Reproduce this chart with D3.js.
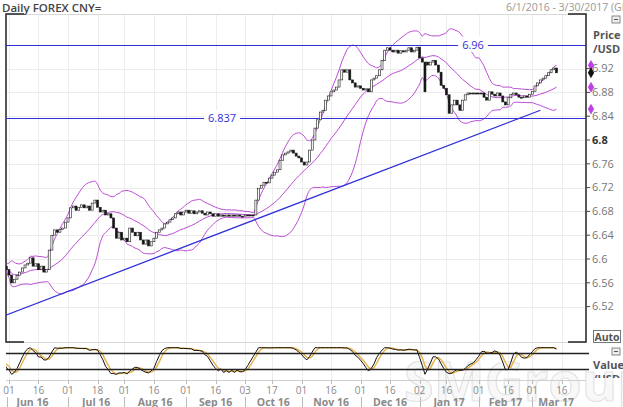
<!DOCTYPE html>
<html>
<head>
<meta charset="utf-8">
<script src="https://cdnjs.cloudflare.com/ajax/libs/d3/7.8.5/d3.min.js"></script>
<style>
	body { margin: 0; background: #fff; }
	svg { display: block; font-family: "Open Sans", sans-serif; }
</style>
</head>
<body>
<svg id="chart" width="623" height="407"></svg>
<script>

// daily closes, one per weekday starting Mon 2016-05-30
const closes = [
	6.588, 6.582,
	6.573, 6.560, 6.566, 6.572, 6.578, 6.585, 6.590, 6.593, 6.602, 6.588,
	6.592, 6.582, 6.588, 6.578, 6.582, 6.615, 6.640, 6.649, 6.645, 6.650,
	6.652, 6.662, 6.669, 6.686, 6.689, 6.682, 6.687, 6.691, 6.686, 6.689,
	6.682, 6.694, 6.699, 6.687, 6.679, 6.682, 6.674, 6.676, 6.669, 6.652,
	6.635, 6.645, 6.632, 6.635, 6.629, 6.652, 6.645, 6.639, 6.645, 6.632,
	6.625, 6.632, 6.622, 6.629, 6.635, 6.645, 6.649, 6.652, 6.659, 6.662,
	6.666, 6.669, 6.676, 6.679, 6.674, 6.679, 6.682, 6.677, 6.681, 6.676,
	6.679, 6.681, 6.677, 6.674, 6.679, 6.676, 6.672, 6.676, 6.672, 6.674,
	6.672, 6.674, 6.672, 6.674, 6.672, 6.674, 6.672, 6.672, 6.674, 6.674,
	6.674, 6.674, 6.699, 6.719, 6.724, 6.729, 6.728, 6.736, 6.741, 6.746,
	6.750, 6.766, 6.775, 6.778, 6.780, 6.783, 6.778, 6.773, 6.770, 6.763,
	6.758, 6.763, 6.783, 6.800, 6.820, 6.834, 6.847, 6.850, 6.867, 6.874,
	6.881, 6.884, 6.889, 6.901, 6.918, 6.914, 6.918, 6.901, 6.896, 6.889,
	6.891, 6.887, 6.884, 6.886, 6.881, 6.901, 6.904, 6.908, 6.918, 6.934,
	6.951, 6.955, 6.951, 6.948, 6.951, 6.946, 6.950, 6.948, 6.951, 6.955,
	6.948, 6.951, 6.956, 6.938, 6.931, 6.881, 6.926, 6.931, 6.934, 6.926,
	6.914, 6.892, 6.887, 6.876, 6.845, 6.859, 6.867, 6.859, 6.850, 6.867,
	6.876, 6.879, 6.879, 6.879, 6.879, 6.879, 6.879, 6.872, 6.867, 6.881,
	6.877, 6.874, 6.879, 6.874, 6.864, 6.859, 6.871, 6.877, 6.879, 6.876,
	6.872, 6.871, 6.874, 6.872, 6.877, 6.882, 6.891, 6.896, 6.901, 6.904,
	6.908, 6.913, 6.918, 6.921, 6.913
];

const opens = [
	6.592, 6.588,
	6.582, 6.573, 6.560, 6.566, 6.572, 6.578, 6.585, 6.590, 6.593, 6.602,
	6.588, 6.592, 6.582, 6.588, 6.578, 6.582, 6.615, 6.640, 6.649, 6.645,
	6.650, 6.652, 6.662, 6.669, 6.686, 6.689, 6.682, 6.687, 6.691, 6.686,
	6.689, 6.682, 6.694, 6.699, 6.687, 6.679, 6.682, 6.674, 6.676, 6.669,
	6.652, 6.635, 6.645, 6.632, 6.635, 6.629, 6.652, 6.645, 6.639, 6.645,
	6.632, 6.625, 6.632, 6.622, 6.629, 6.635, 6.645, 6.649, 6.652, 6.659,
	6.662, 6.666, 6.669, 6.676, 6.679, 6.674, 6.679, 6.682, 6.677, 6.681,
	6.676, 6.679, 6.681, 6.677, 6.674, 6.679, 6.676, 6.672, 6.676, 6.672,
	6.674, 6.672, 6.674, 6.672, 6.674, 6.672, 6.674, 6.672, 6.672, 6.674,
	6.674, 6.674, 6.674, 6.699, 6.719, 6.724, 6.729, 6.728, 6.736, 6.741,
	6.746, 6.750, 6.766, 6.775, 6.778, 6.780, 6.783, 6.778, 6.773, 6.770,
	6.763, 6.758, 6.763, 6.783, 6.800, 6.820, 6.834, 6.847, 6.850, 6.867,
	6.874, 6.881, 6.884, 6.889, 6.901, 6.918, 6.914, 6.918, 6.901, 6.896,
	6.889, 6.891, 6.887, 6.884, 6.886, 6.881, 6.901, 6.904, 6.908, 6.918,
	6.934, 6.951, 6.955, 6.951, 6.948, 6.951, 6.946, 6.950, 6.948, 6.951,
	6.955, 6.948, 6.951, 6.956, 6.938, 6.931, 6.931, 6.926, 6.931, 6.934,
	6.926, 6.914, 6.892, 6.887, 6.876, 6.845, 6.859, 6.867, 6.859, 6.850,
	6.867, 6.876, 6.879, 6.879, 6.879, 6.879, 6.879, 6.879, 6.872, 6.867,
	6.881, 6.877, 6.874, 6.879, 6.874, 6.864, 6.859, 6.871, 6.877, 6.879,
	6.876, 6.872, 6.871, 6.874, 6.872, 6.877, 6.882, 6.891, 6.896, 6.901,
	6.904, 6.908, 6.913, 6.918, 6.921
];

const startDate = '2016-05-30';
const levelValues = [6.96, 6.837];
const levelLabels = ['6.96', '6.837'];
const trendDates = ['2016-05-30', '2017-03-06'];
const trendValues = [6.505, 6.850];
const priceTicks = [6.52, 6.56, 6.6, 6.64, 6.68, 6.72, 6.76, 6.8, 6.84, 6.88, 6.92];
const dayTicks = ['2016-06-01', '2016-06-16', '2016-07-01', '2016-07-18', '2016-08-01', '2016-08-16',
	'2016-09-01', '2016-09-16', '2016-10-03', '2016-10-17', '2016-11-01', '2016-11-16',
	'2016-12-01', '2016-12-16', '2017-01-02', '2017-01-16', '2017-02-01', '2017-02-16',
	'2017-03-01', '2017-03-16'];
const monthStarts = ['2016-06-01', '2016-07-01', '2016-08-01', '2016-09-01', '2016-10-03', '2016-11-01',
	'2016-12-01', '2017-01-02', '2017-02-01', '2017-03-01', '2017-04-03'];
const monthLabels = ['Jun 16', 'Jul 16', 'Aug 16', 'Sep 16', 'Oct 16', 'Nov 16', 'Dec 16', 'Jan 17', 'Feb 17', 'Mar 17'];
const oscLevels = [80, 20];

let svg = d3.select('#chart');
const L = 6, R = 586, T = 14, B = 342;
const oscT = 345, oscB = 380;
const purple = '#bb4ad6', blue = '#3030d8';

let parse = d3.timeParse('%Y-%m-%d');
let base = parse(startDate);

// weekday count from the first bar
function tIndex(s) {
	let d = parse(s), t = new Date(base), n = 0;
	while (t < d) {
		t.setDate(t.getDate() + 1);
		if (t.getDay() % 6 !== 0) n++;
	}
	return n;
}

let x = d3.scaleLinear().domain([0.9, 217]).range([L, R]);
let y = d3.scaleLinear().domain([6.4605, 7.0118]).range([B, T]);
let yo = d3.scaleLinear().domain([0, 100]).range([374.3, 347.7]);

let bars = closes.map((c, i) => ({ i: i, o: opens[i], c: c }));

// bollinger 20,2
let bands = closes.map((c, i) => {
	let w = closes.slice(Math.max(0, i - 19), i + 1);
	let m = d3.mean(w);
	let sd = Math.sqrt(d3.mean(w, v => (v - m) * (v - m)));
	return { i: i, mid: m, up: m + 2 * sd, lo: m - 2 * sd };
});

// stochastic 14,3,3 on closes
let raw = closes.map((c, i) => {
	let w = closes.slice(Math.max(0, i - 13), i + 1);
	let lo = d3.min(w), hi = d3.max(w);
	return hi > lo ? (c - lo) / (hi - lo) * 100 : 50;
});
let sma3 = arr => arr.map((v, i) => d3.mean(arr.slice(Math.max(0, i - 2), i + 1)));
let kLine = sma3(raw);
let dLine = sma3(kLine);

svg.append('rect').attr('width', 623).attr('height', 407).attr('fill', '#fff');

let defs = svg.append('defs');
defs.append('clipPath').attr('id', 'clipMain')
	.append('rect').attr('x', L).attr('y', T).attr('width', R - L).attr('height', B - T);
defs.append('clipPath').attr('id', 'clipOsc')
	.append('rect').attr('x', L).attr('y', oscT).attr('width', R - L).attr('height', oscB - oscT);

// watermark
svg.append('text')
	.attr('x', 404).attr('y', 401)
	.style('font-size', '54px').style('font-weight', 'bold')
	.attr('fill', '#f8f8f8').attr('stroke', '#e3e3e3').attr('stroke-width', 1.2)
	.text('SMGroup');

// grid
let grid = svg.append('g').attr('stroke', '#ededed').attr('stroke-width', 1);
grid.selectAll('.vg').data(dayTicks).enter().append('line')
	.attr('x1', d => Math.round(x(tIndex(d))) + 0.5).attr('x2', d => Math.round(x(tIndex(d))) + 0.5)
	.attr('y1', T).attr('y2', oscB);
grid.selectAll('.hg').data(priceTicks).enter().append('line')
	.attr('x1', L).attr('x2', R)
	.attr('y1', d => Math.round(y(d)) + 0.5).attr('y2', d => Math.round(y(d)) + 0.5);
grid.append('line').attr('x1', L).attr('x2', R).attr('y1', T + 0.5).attr('y2', T + 0.5).attr('stroke', '#d8d8d8');
grid.append('line').attr('x1', L).attr('x2', R).attr('y1', B + 0.5).attr('y2', B + 0.5).attr('stroke', '#d8d8d8');
grid.append('line').attr('x1', L).attr('x2', R).attr('y1', oscB + 0.5).attr('y2', oscB + 0.5).attr('stroke', '#d0d0d0');

// frame: side lines and corner brackets
let frame = svg.append('g').attr('stroke', '#222').attr('stroke-width', 1.5).attr('fill', 'none');
frame.append('path').attr('d', `M${L + 18},${T}H${L}V${B}H${L + 18}`);
frame.append('path').attr('d', `M${R - 18},${T}H${R}V${B}H${R - 18}`);

let main = svg.append('g').attr('clip-path', 'url(#clipMain)');

// bollinger lines
['up', 'mid', 'lo'].forEach(k => {
	main.append('path')
		.datum(bands)
		.attr('fill', 'none').attr('stroke', purple).attr('stroke-width', 1)
		.attr('d', d3.line().x(d => x(d.i)).y(d => y(d[k])).curve(d3.curveMonotoneX));
});

// horizontal levels
levelValues.forEach(v => {
	main.append('line')
		.attr('x1', L).attr('x2', R)
		.attr('y1', Math.round(y(v)) + 0.5).attr('y2', Math.round(y(v)) + 0.5)
		.attr('stroke', blue).attr('stroke-width', 1.2);
});

// trend line
main.append('line')
	.attr('x1', x(tIndex(trendDates[0]) - 0.9)).attr('y1', y(trendValues[0] - 0.0025))
	.attr('x2', x(tIndex(trendDates[1]))).attr('y2', y(trendValues[1]))
	.attr('stroke', blue).attr('stroke-width', 1.3);

// candles
main.selectAll('.bar').data(bars).enter().append('rect')
	.attr('class', 'bar')
	.attr('x', d => x(d.i) - 1)
	.attr('width', 2)
	.attr('y', d => y(Math.max(d.o, d.c)))
	.attr('height', d => Math.max(1, Math.abs(y(d.o) - y(d.c))))
	.attr('fill', d => d.c > d.o ? '#fff' : '#161616')
	.attr('stroke', '#161616').attr('stroke-width', 0.6);

// level labels with white boxes
let labelPos = [473, 222];
levelValues.forEach((v, k) => {
	let g = svg.append('g').attr('transform', `translate(${labelPos[k]},${y(v)})`);
	let t = g.append('text').attr('text-anchor', 'middle').attr('dy', '0.35em')
		.style('font-size', '11px').attr('fill', blue).text(levelLabels[k]);
	let bb = t.node().getBBox();
	g.insert('rect', 'text').attr('x', bb.x - 4).attr('y', bb.y).attr('width', bb.width + 8).attr('height', bb.height).attr('fill', '#fff');
});

// price axis
let yAxis = svg.append('g');
yAxis.selectAll('.tk').data(priceTicks).enter().append('line')
	.attr('x1', R).attr('x2', R + 4).attr('y1', d => y(d)).attr('y2', d => y(d))
	.attr('stroke', '#444');
yAxis.selectAll('.tl').data(priceTicks).enter().append('text')
	.attr('x', R + 6).attr('y', d => y(d)).attr('dy', '0.35em')
	.style('font-size', '11px')
	.style('font-weight', d => d === 6.8 ? 'bold' : 'normal')
	.attr('fill', d => d === 6.8 ? '#333' : '#777')
	.text(d => d3.format('')(d));

// last-value markers
let last = bands[bands.length - 1];
let diamond = d3.symbol(d3.symbolDiamond).size(34);
[last.up, last.mid, last.lo].forEach(v => {
	svg.append('path').attr('d', diamond).attr('transform', `translate(${R + 5},${y(v)})`).attr('fill', '#c040e8');
});
svg.append('path').attr('d', diamond).attr('transform', `translate(${R + 5},${y(closes[closes.length - 1])})`).attr('fill', '#111');

// oscillator panel
let osc = svg.append('g').attr('clip-path', 'url(#clipOsc)');
oscLevels.forEach(v => {
	svg.append('line').attr('x1', L).attr('x2', R + 3)
		.attr('y1', Math.round(yo(v)) + 0.5).attr('y2', Math.round(yo(v)) + 0.5)
		.attr('stroke', '#222').attr('stroke-width', 1.3);
});
osc.append('path').datum(dLine)
	.attr('fill', 'none').attr('stroke', '#e8b045').attr('stroke-width', 1.4)
	.attr('d', d3.line().x((d, i) => x(i)).y(d => yo(d)));
osc.append('path').datum(kLine)
	.attr('fill', 'none').attr('stroke', '#111').attr('stroke-width', 1)
	.attr('d', d3.line().x((d, i) => x(i)).y(d => yo(d)));

// time axis
let xAxis = svg.append('g');
xAxis.selectAll('.xt').data(dayTicks).enter().append('line')
	.attr('x1', d => Math.round(x(tIndex(d))) + 0.5).attr('x2', d => Math.round(x(tIndex(d))) + 0.5)
	.attr('y1', oscB).attr('y2', oscB + 4).attr('stroke', '#bbb');
xAxis.selectAll('.xl').data(dayTicks).enter().append('text')
	.attr('x', d => x(tIndex(d))).attr('y', 394)
	.attr('text-anchor', 'middle')
	.style('font-size', '10px').attr('fill', '#8a8a8a')
	.text(d => d.slice(8));

let mx = monthStarts.map((s, k) => k === 0 ? L + 1 : Math.min(R - 6, x(tIndex(s))));
xAxis.selectAll('.ms').data(mx.slice(0, -1)).enter().append('line')
	.attr('x1', d => Math.round(d) + 0.5).attr('x2', d => Math.round(d) + 0.5)
	.attr('y1', 397).attr('y2', 407).attr('stroke', '#bbb');
xAxis.selectAll('.ml').data(monthLabels).enter().append('text')
	.attr('x', (d, k) => (mx[k] + mx[k + 1]) / 2 - (k === 0 ? 5 : 0)).attr('y', 405.5)
	.attr('text-anchor', 'middle')
	.style('font-size', '10.5px').style('font-weight', 'bold').attr('fill', '#8a8a8a')
	.text(d => d);

// header texts
svg.append('text').attr('x', 2).attr('y', 12)
	.style('font-size', '11.5px').style('font-weight', 600).attr('fill', '#444')
	.text('Daily FOREX CNY=');
svg.append('text').attr('x', 506).attr('y', 11)
	.style('font-size', '10.5px').attr('fill', '#999')
	.text('6/1/2016 - 3/30/2017 (GMT)');

// right side captions
function iconBox(cx, cy) {
	svg.append('rect').attr('x', cx).attr('y', cy).attr('width', 8).attr('height', 7)
		.attr('fill', '#eee').attr('stroke', '#888');
	svg.append('line').attr('x1', cx + 2).attr('x2', cx + 6).attr('y1', cy + 3.5).attr('y2', cy + 3.5).attr('stroke', '#555');
}
iconBox(612, 16);
svg.append('text').attr('x', 593).attr('y', 39).style('font-size', '11px').style('font-weight', 'bold').attr('fill', '#555').text('Price');
svg.append('text').attr('x', 593).attr('y', 53).style('font-size', '11px').style('font-weight', 'bold').attr('fill', '#555').text('/USD');

svg.append('rect').attr('x', 593.5).attr('y', 330.5).attr('width', 27).attr('height', 12)
	.attr('fill', '#fff').attr('stroke', '#777');
svg.append('text').attr('x', 607).attr('y', 340.5).attr('text-anchor', 'middle')
	.style('font-size', '10.5px').style('font-weight', 'bold').attr('fill', '#555').text('Auto');
iconBox(612, 348);
svg.append('text').attr('x', 593).attr('y', 369).style('font-size', '11px').style('font-weight', 'bold').attr('fill', '#555').text('Value');
defs.append('clipPath').attr('id', 'clipCap')
	.append('rect').attr('x', 590).attr('y', 370).attr('width', 33).attr('height', 8);
svg.append('text').attr('x', 593).attr('y', 383).attr('clip-path', 'url(#clipCap)')
	.style('font-size', '11px').style('font-weight', 'bold').attr('fill', '#555').text('/USD');

</script>
</body>
</html>
